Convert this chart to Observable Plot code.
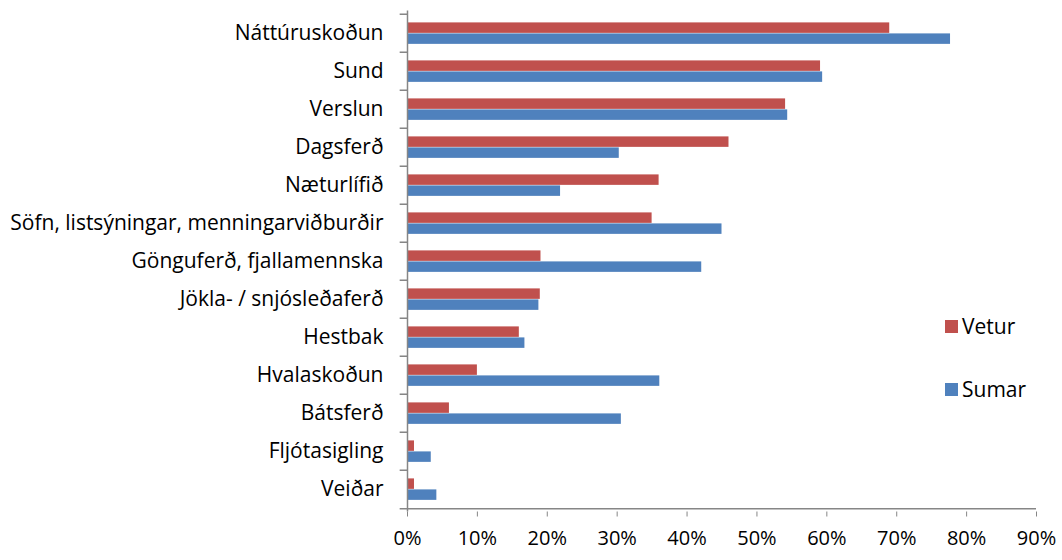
<!DOCTYPE html>
<html>
<head>
<meta charset="utf-8">
<script src="https://cdn.jsdelivr.net/npm/d3@7"></script>
<script src="https://cdn.jsdelivr.net/npm/@observablehq/plot@0.6"></script>
<style>
  html, body { margin: 0; padding: 0; background: #fff; }
  #wrap { position: relative; width: 1062px; height: 560px; font-family: "Open Sans", sans-serif; }
  #legend { position: absolute; left: 945px; top: 313px; font-size: 21px; color: #000; }
  .li { display: flex; align-items: center; height: 26px; }
  .sw { width: 13px; height: 13px; margin-right: 4px; }
</style>
</head>
<body>
<div id="wrap"></div>
<script>
const categories = ["Náttúruskoðun","Sund","Verslun","Dagsferð","Næturlífið","Söfn, listsýningar, menningarviðburðir","Gönguferð, fjallamennska","Jökla- / snjósleðaferð","Hestbak","Hvalaskoðun","Bátsferð","Fljótasigling","Veiðar"];
const vetur = [69.0, 59.1, 54.1, 46.0, 36.0, 35.0, 19.1, 19.0, 16.0, 10.0, 6.0, 1.0, 1.0];
const sumar = [77.7, 59.4, 54.4, 30.3, 21.9, 45.0, 42.1, 18.8, 16.8, 36.1, 30.6, 3.4, 4.2];
const seriesNames = ["Vetur", "Sumar"];
const seriesColors = ["#C0504D", "#4F81BD"];
const xTicks = [0, 10, 20, 30, 40, 50, 60, 70, 80, 90];

const W = 1062, H = 560, mTop = 10.5, mBottom = 48.5, mLeft = 407, mRight = 26;
const bw = (H - mTop - mBottom) / categories.length;
const barH = 11, gapTop = 8.4;
const axisColor = "#868686";
const font = "'Open Sans', sans-serif";

const rowsV = categories.map((c, i) => ({cat: c, value: vetur[i] / 100}));
const rowsS = categories.map((c, i) => ({cat: c, value: sumar[i] / 100}));

const chart = Plot.plot({
  width: W, height: H,
  marginTop: mTop, marginBottom: mBottom, marginLeft: mLeft, marginRight: mRight,
  style: {fontFamily: font, fontSize: "20px", color: "#000", background: "#fff"},
  x: {domain: [0, 0.9], axis: null},
  y: {domain: categories, padding: 0, axis: null},
  marks: [
    Plot.barX(rowsV, {x: "value", y: "cat", fill: seriesColors[0], insetTop: gapTop, insetBottom: bw - gapTop - barH}),
    Plot.barX(rowsS, {x: "value", y: "cat", fill: seriesColors[1], insetTop: gapTop + barH, insetBottom: bw - gapTop - 2 * barH}),
    Plot.ruleX([0], {stroke: axisColor, strokeWidth: 1.5}),
    Plot.ruleY(categories, {y: d => d, x1: -0.0105, x2: 0, dy: -bw / 2, stroke: axisColor, strokeWidth: 1.5}),
    Plot.ruleY([categories[categories.length - 1]], {x1: -0.0105, x2: 0.9, dy: bw / 2, stroke: axisColor, strokeWidth: 1.5}),
    Plot.text(categories, {y: d => d, x: 0, text: d => d, textAnchor: "end", dx: -24, dy: 0, fill: "#000", fontSize: 21}),
    Plot.axisX(xTicks.map(d => d / 100), {anchor: "bottom", label: null, tickSize: 5, tickPadding: 14, tickFormat: d => Math.round(d * 100) + "%", stroke: axisColor, fill: "#000", fontSize: 20})
  ]
});
document.getElementById("wrap").appendChild(chart);

const legend = document.createElement("div");
legend.id = "legend";
legend.innerHTML = seriesNames.map((n, i) =>
  `<div class="li" style="margin-bottom:${i === 0 ? 37 : 0}px"><span class="sw" style="background:${seriesColors[i]}"></span>${n}</div>`).join("");
document.getElementById("wrap").appendChild(legend);
</script>
</body>
</html>
